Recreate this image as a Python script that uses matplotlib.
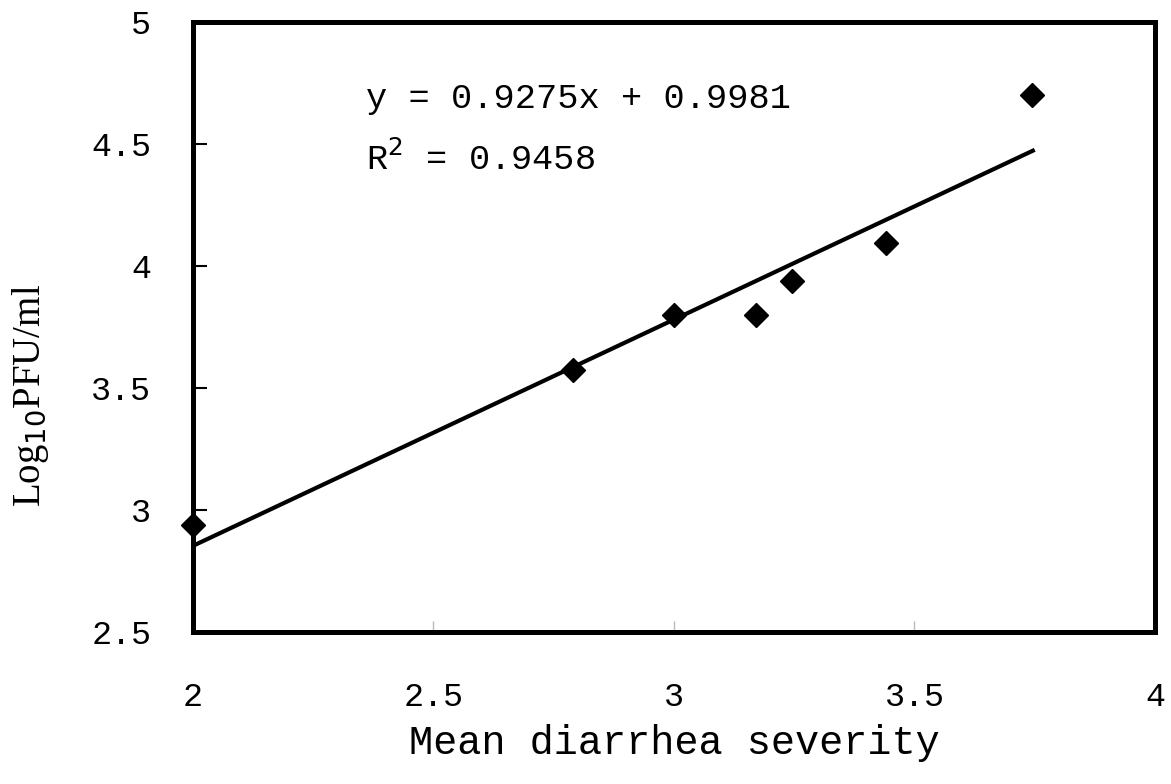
import matplotlib.pyplot as plt
import numpy as np

# data
severity = [2.0, 2.79, 3.0, 3.17, 3.245, 3.44, 3.745]
log_pfu = [2.94, 3.575, 3.80, 3.80, 3.94, 4.095, 4.70]
slope = 0.9275
intercept = 0.9981
r_squared = 0.9458
fit_range = [2.0, 3.75]

xticks = [2.0, 2.5, 3.0, 3.5, 4.0]
yticks = [2.5, 3.0, 3.5, 4.0, 4.5, 5.0]

mono = 'Liberation Mono'
serif = 'Liberation Serif'

fig = plt.figure(figsize=(11.71, 7.84), dpi=100)
ax = fig.add_axes([0.1648, 0.1939, 0.8215, 0.7780])

ax.plot(severity, log_pfu, 'D', color='black', markersize=12.5, zorder=3, clip_on=False)
xf = np.array(fit_range)
ax.plot(xf, slope * xf + intercept, '-', color='black', linewidth=3, solid_capstyle='butt')

ax.set_xlim(2, 4)
ax.set_ylim(2.5, 5)
ax.set_xticks(xticks)
ax.set_yticks(yticks)
ax.set_xticklabels([f'{t:g}' for t in xticks], fontfamily=mono, fontsize=24)
ax.set_yticklabels([f'{t:g}' for t in yticks], fontfamily=mono, fontsize=24)
ax.tick_params(axis='y', direction='in', length=10, width=1.5, pad=30)
ax.tick_params(axis='x', direction='in', length=8, width=1, color='#bbbbbb', pad=36)

for sp in ax.spines.values():
    sp.set_linewidth(3.6)

ax.set_xlabel('Mean diarrhea severity', fontfamily=mono, fontsize=29, labelpad=8)
ax.set_ylabel(r'Log$_{10}$PFU/ml', fontfamily=serif, fontsize=28)
ax.yaxis.label.set_verticalalignment('center')
ax.yaxis.set_label_coords(-0.169, 0.388)

ax.text(2.36, 4.685, f'y = {slope}x + {intercept}', fontfamily=mono, fontsize=25.5, va='center')
ax.text(2.36, 4.44, f'R$^2$ = {r_squared}', fontfamily=mono, fontsize=25.5, va='center')

fig.savefig('out.png', dpi=100)
